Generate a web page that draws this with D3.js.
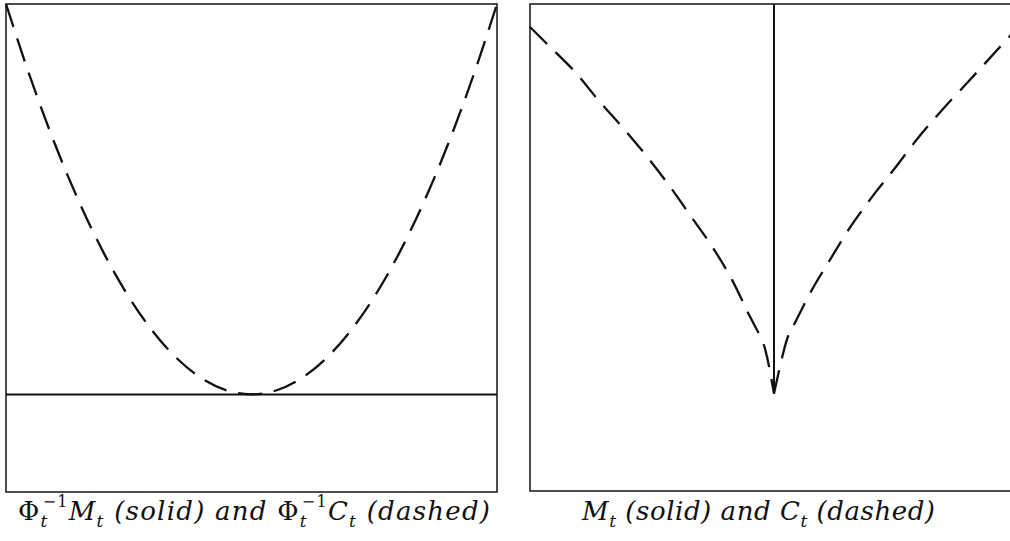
<!DOCTYPE html>
<html lang="en">
<head>
<meta charset="utf-8">
<title>Phi^-1 M_t and C_t</title>
<script src="https://cdn.jsdelivr.net/npm/d3@7"></script>
<style>
  body { margin: 0; background: #fff; }
  svg text { font-family: "DejaVu Serif", "Liberation Serif", serif; fill: #111; }
  .frame { fill: none; stroke: #222; stroke-width: 1.6; }
  .solid { fill: none; stroke: #111; stroke-width: 2; }
  .dashed { fill: none; stroke: #111; stroke-width: 2.3; stroke-dasharray: 24 12; }
</style>
</head>
<body>
<script>
// left panel: Phi^-1 C_t (dashed parabola), Phi^-1 M_t (solid, flat at 0)
var leftX = [-1, -0.9, -0.8, -0.7, -0.6, -0.5, -0.4, -0.3, -0.2, -0.1, 0,
             0.1, 0.2, 0.3, 0.4, 0.5, 0.6, 0.7, 0.8, 0.9, 1];
var leftC = [1, 0.81, 0.64, 0.49, 0.36, 0.25, 0.16, 0.09, 0.04, 0.01, 0,
             0.01, 0.04, 0.09, 0.16, 0.25, 0.36, 0.49, 0.64, 0.81, 1];
var leftM = [0, 0];
var leftMX = [-1, 1];

// right panel: C_t (dashed, cusp at 0), M_t (solid spike at 0)
var rightXa = [-1, -0.926, -0.816, -0.721, -0.619, -0.52, -0.426, -0.336, -0.25, -0.172, -0.107, -0.045, -0.029, 0];
var rightCa = [0.941, 0.895, 0.826, 0.754, 0.682, 0.608, 0.531, 0.451, 0.374, 0.292, 0.208, 0.131, 0.095, 0];
var rightXb = [0, 0.033, 0.057, 0.086, 0.156, 0.23, 0.311, 0.402, 0.496, 0.59, 0.689, 0.791, 0.877, 0.963, 1];
var rightCb = [0, 0.092, 0.146, 0.182, 0.267, 0.344, 0.426, 0.505, 0.579, 0.656, 0.728, 0.797, 0.856, 0.915, 0.94];
var rightMX = [0, 0];
var rightM = [0, 1];

var w = 1010, h = 541;
var svg = d3.select("body").append("svg").attr("width", w).attr("height", h);

function zip(xs, ys) { return xs.map(function (x, i) { return [x, ys[i]]; }); }

function panel(x0, x1, y1) {
  var x = d3.scaleLinear().domain([-1, 1]).range([x0, x1]);
  var y = d3.scaleLinear().domain([-0.25, 1]).range([y1, 4]);
  svg.append("rect").attr("class", "frame")
    .attr("x", x0).attr("y", y(1)).attr("width", x1 - x0).attr("height", y1 - y(1));
  return { x: x, y: y };
}

function draw(p, pts, cls, curve) {
  var line = d3.line()
    .x(function (d) { return p.x(d[0]); })
    .y(function (d) { return p.y(d[1]); })
    .curve(curve || d3.curveLinear);
  svg.append("path").datum(pts).attr("class", cls).attr("d", line);
}

var L = panel(6, 497, 492);
draw(L, zip(leftMX, leftM), "solid");
draw(L, zip(leftX, leftC), "dashed", d3.curveMonotoneX);

var R = panel(530, 1018, 491);
draw(R, zip(rightMX, rightM), "solid");
draw(R, zip(rightXa, rightCa), "dashed", d3.curveCatmullRom);
draw(R, zip(rightXb, rightCb), "dashed", d3.curveCatmullRom);

// captions
function it(t, s, dy) {
  return t.append("tspan").attr("font-style", "italic").attr("dy", dy || 0).text(s);
}
function sub(t, s) {
  return t.append("tspan").attr("font-style", "italic").attr("font-size", 17).attr("dy", 7).text(s);
}
function phiInv(t, dy) {
  t.append("tspan").attr("dy", dy || 0).text("\u03A6");
  sub(t, "t");
  t.append("tspan").attr("font-size", 16).attr("dx", -6).attr("dy", -20).text("\u22121");
}

var cap1 = svg.append("text").attr("x", 18).attr("y", 520).attr("font-size", 26)
  .attr("textLength", 472).attr("lengthAdjust", "spacing");
phiInv(cap1);
it(cap1, "M", 13);
sub(cap1, "t");
it(cap1, "\u00A0(solid) and ", -7);
phiInv(cap1);
it(cap1, "C", 13);
sub(cap1, "t");
it(cap1, "\u00A0(dashed)", -7);

var cap2 = svg.append("text").attr("x", 582).attr("y", 520).attr("font-size", 26)
  .attr("textLength", 353).attr("lengthAdjust", "spacing");
it(cap2, "M");
sub(cap2, "t");
it(cap2, "\u00A0(solid) and C", -7);
sub(cap2, "t");
it(cap2, "\u00A0(dashed)", -7);
</script>
</body>
</html>
